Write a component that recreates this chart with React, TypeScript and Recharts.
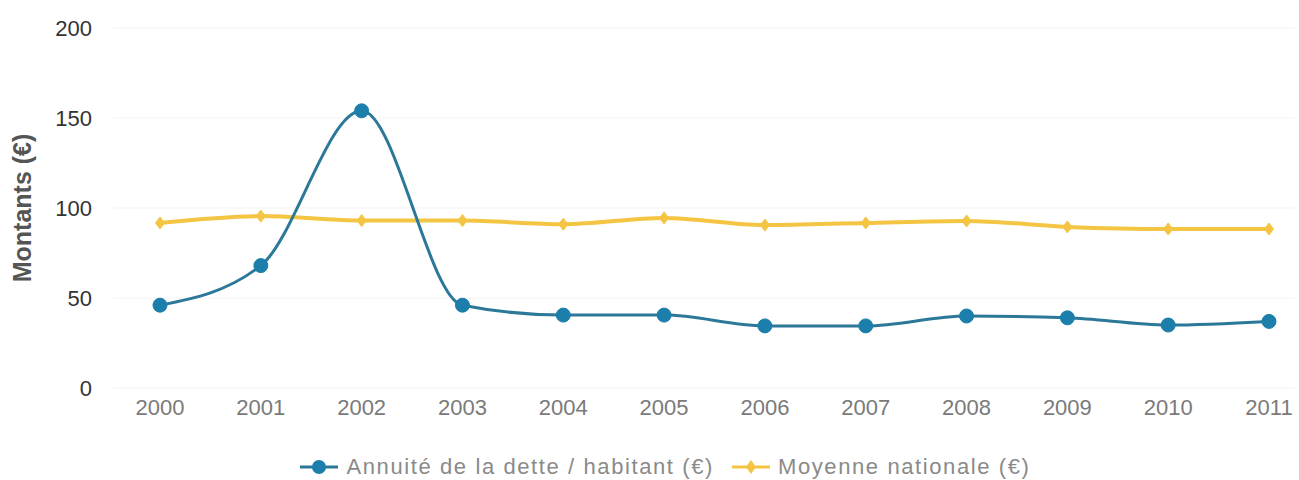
import React from "react";
import { LineChart, Line, XAxis, YAxis, CartesianGrid, Legend, Label } from "recharts";

const years = ["2000", "2001", "2002", "2003", "2004", "2005", "2006", "2007", "2008", "2009", "2010", "2011"];
const annuite = [46, 68, 154, 46, 40.5, 40.5, 34.5, 34.5, 40, 39, 35, 37];
const moyenne = [91.7, 95.5, 93, 93, 91, 94.5, 90.5, 91.7, 92.8, 89.5, 88.3, 88.3];
const yTicks = [0, 50, 100, 150, 200];

const BLUE_LINE = "#2c7898";
const BLUE_DOT = "#1b7eab";
const YELLOW = "#f4c443";

const data = years.map((y, i) => ({ year: y, annuite: annuite[i], moyenne: moyenne[i] }));

const Diamond = (props: any) => {
  const { cx, cy } = props;
  if (cx == null || cy == null) return null;
  const r = 6;
  return (
    <polygon
      points={`${cx},${cy - r} ${cx + r * 0.75},${cy} ${cx},${cy + r} ${cx - r * 0.75},${cy}`}
      fill={YELLOW}
      stroke={YELLOW}
      strokeWidth={1}
    />
  );
};

const YTitle = (props: any) => {
  const vb = props.viewBox || {};
  const cx = (vb.x || 0) + 22;
  const cy = (vb.y || 0) + (vb.height || 0) / 2;
  return (
    <text
      x={cx}
      y={cy}
      transform={`rotate(-90, ${cx}, ${cy})`}
      textAnchor="middle"
      dominantBaseline="central"
      fontFamily="Liberation Sans, Arial, sans-serif"
      fontWeight="bold"
      fontSize={25}
      fill="#555"
    >
      Montants (€)
    </text>
  );
};

const LegendContent = () => (
  <div
    style={{
      display: "flex",
      justifyContent: "center",
      alignItems: "center",
      height: 26,
      marginLeft: 36,
      fontFamily: "Liberation Sans, Arial, sans-serif",
      fontSize: 22,
      letterSpacing: 1.6,
      color: "#8a8a8a",
    }}
  >
    <svg width={38} height={20} style={{ marginRight: 8 }}>
      <line x1={0} y1={10} x2={38} y2={10} stroke={BLUE_LINE} strokeWidth={3} />
      <circle cx={19} cy={10} r={7} fill={BLUE_DOT} />
    </svg>
    <span style={{ marginRight: 18 }}>Annuité de la dette / habitant (€)</span>
    <svg width={38} height={20} style={{ marginRight: 8 }}>
      <line x1={0} y1={10} x2={38} y2={10} stroke={YELLOW} strokeWidth={3} />
      <polygon points="19,3 24,10 19,17 14,10" fill={YELLOW} />
    </svg>
    <span>Moyenne nationale (€)</span>
  </div>
);

export default function App() {
  return (
    <div style={{ position: "absolute", left: 0, top: 0, background: "#fff" }}>
      <LineChart width={1299} height={480} data={data} margin={{ top: 28, right: 4, bottom: 0, left: 0 }}>
        <CartesianGrid vertical={false} stroke="#f3f3f3" />
        <XAxis
          dataKey="year"
          scale="point"
          padding={{ left: 47, right: 26 }}
          axisLine={false}
          tickLine={false}
          tickMargin={5}
          height={66}
          tick={{ fontFamily: "Liberation Sans, Arial, sans-serif", fontSize: 22, fill: "#7a7a7a" }}
        />
        <YAxis
          domain={[0, 200]}
          ticks={yTicks}
          width={113}
          axisLine={false}
          tickLine={false}
          tickMargin={15}
          interval={0}
          tick={{ fontFamily: "Liberation Sans, Arial, sans-serif", fontSize: 22, fill: "#333" }}
        >
          <Label content={<YTitle />} />
        </YAxis>
        <Legend verticalAlign="bottom" height={26} wrapperStyle={{ bottom: 0 }} content={<LegendContent />} />
        <Line
          type="monotone"
          dataKey="moyenne"
          stroke={YELLOW}
          strokeWidth={4}
          dot={<Diamond />}
          activeDot={false}
          isAnimationActive={false}
        />
        <Line
          type="monotone"
          dataKey="annuite"
          stroke={BLUE_LINE}
          strokeWidth={3}
          dot={{ r: 7, fill: BLUE_DOT, stroke: BLUE_DOT, strokeWidth: 1 }}
          activeDot={false}
          isAnimationActive={false}
        />
      </LineChart>
    </div>
  );
}
